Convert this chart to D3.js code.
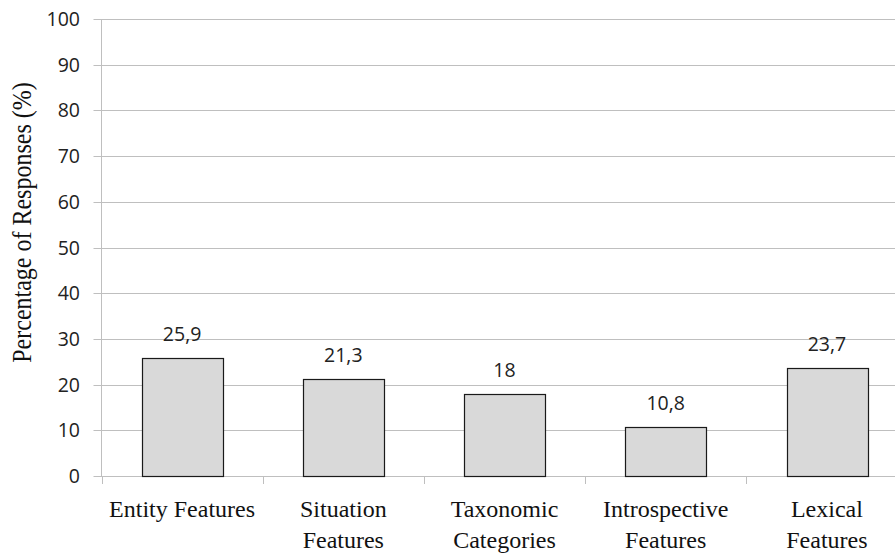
<!DOCTYPE html>
<html><head><meta charset="utf-8">
<script src="https://cdn.jsdelivr.net/npm/d3@7"></script>
<style>body{margin:0;background:#fff}svg{display:block}</style>
</head><body>
<svg id="c" width="895" height="553"></svg>
<script>
const categories = [["Entity Features"], ["Situation", "Features"], ["Taxonomic", "Categories"], ["Introspective", "Features"], ["Lexical", "Features"]];
const values = [25.9, 21.3, 18, 10.8, 23.7];
const valueLabels = ["25,9", "21,3", "18", "10,8", "23,7"];
const yTicks = [0, 10, 20, 30, 40, 50, 60, 70, 80, 90, 100];
const yTitle = "Percentage of Responses (%)";

(function () {
const svg = d3.select("#c");
const mLeft = 101.5, mRight = 907.5, mTop = 19, mBottom = 476;
const keys = categories.map((c, i) => i);
const x = d3.scaleBand().domain(keys).range([mLeft, mRight]).paddingInner(0.5).paddingOuter(0.25);
const y = d3.scaleLinear().domain([0, 100]).range([mBottom, mTop]);
const sans = "'Open Sans', sans-serif";
const serif = "'Liberation Serif', serif";

svg.append("g").selectAll("line").data(yTicks).join("line")
  .attr("x1", mLeft - 8).attr("x2", mRight)
  .attr("y1", d => Math.round(y(d)) + 0.5).attr("y2", d => Math.round(y(d)) + 0.5)
  .attr("stroke", "#bfbfbf").attr("stroke-width", 1);

svg.append("line").attr("x1", mLeft).attr("x2", mLeft).attr("y1", mTop).attr("y2", mBottom)
  .attr("stroke", "#bfbfbf");

svg.append("g").selectAll("text").data(yTicks).join("text")
  .attr("x", 80).attr("y", d => y(d)).attr("dy", "0.36em")
  .attr("text-anchor", "end").attr("font-family", sans)
  .attr("font-size", 19.5).attr("fill", "#222").text(d => d);

const step = x.step();
const bounds = d3.range(0, categories.length + 1).map(i => mLeft + i * step);
svg.append("g").selectAll("line").data(bounds).join("line")
  .attr("x1", d => Math.round(d) + 0.5).attr("x2", d => Math.round(d) + 0.5)
  .attr("y1", mBottom).attr("y2", mBottom + 8).attr("stroke", "#bfbfbf");

svg.append("g").selectAll("rect").data(values).join("rect")
  .attr("x", (d, i) => Math.round(x(i)) + 0.5).attr("width", Math.round(x.bandwidth()))
  .attr("y", d => Math.round(y(d)) + 0.5).attr("height", d => Math.round(mBottom - y(d)))
  .attr("fill", "#d9d9d9").attr("stroke", "#1a1a1a").attr("stroke-width", 1.2);

svg.append("g").selectAll("text").data(values).join("text")
  .attr("x", (d, i) => x(i) + x.bandwidth() / 2).attr("y", d => y(d) - 17)
  .attr("text-anchor", "middle").attr("font-family", sans)
  .attr("font-size", 19.5).attr("fill", "#222").text((d, i) => valueLabels[i]);

const cat = svg.append("g").selectAll("text").data(categories).join("text")
  .attr("text-anchor", "middle").attr("font-family", serif)
  .attr("font-size", 24).attr("fill", "#111");
cat.each(function (lines, i) {
  const t = d3.select(this);
  lines.forEach((ln, j) => {
    t.append("tspan").attr("x", x(i) + x.bandwidth() / 2).attr("y", 517 + j * 31).text(ln);
  });
});

svg.append("text").attr("transform", `translate(31,222.5) scale(1.12,1) rotate(-90)`)
  .attr("text-anchor", "middle").attr("font-family", serif)
  .attr("font-size", 24).attr("fill", "#111").text(yTitle);
})();
</script>
</body></html>
